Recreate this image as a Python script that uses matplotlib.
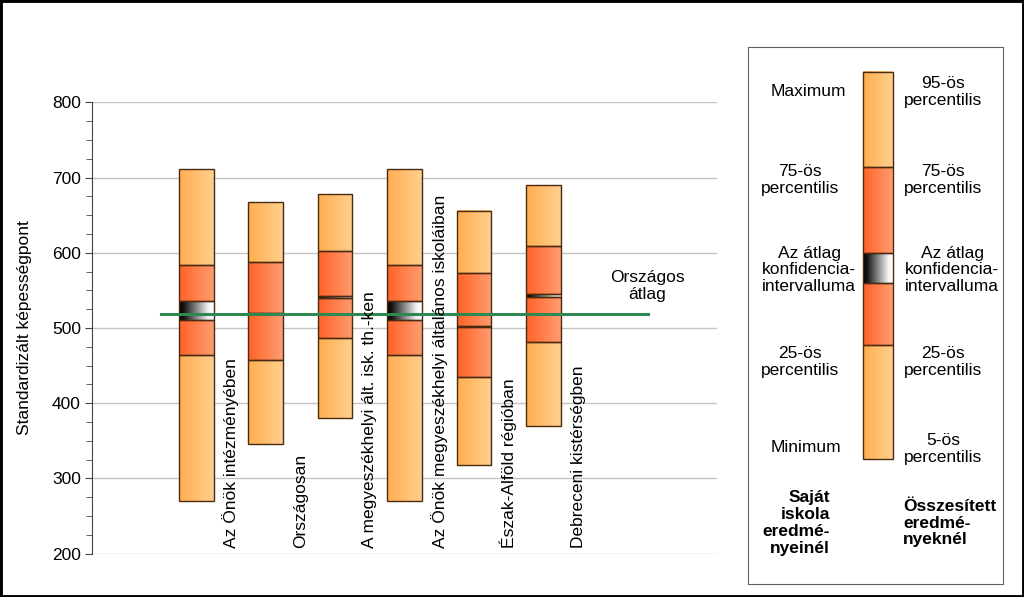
import matplotlib
matplotlib.use("Agg")
import matplotlib.pyplot as plt
import numpy as np
from matplotlib.colors import LinearSegmentedColormap
from matplotlib.patches import Rectangle

plt.rcParams["font.family"] = ["Liberation Sans", "DejaVu Sans"]

# Data
categories = [
    "Az Önök intézményében",
    "Országosan",
    "A megyeszékhelyi ált. isk. th.-ken",
    "Az Önök megyeszékhelyi általános iskoláiban",
    "Észak-Alföld régióban",
    "Debreceni kistérségben",
]
minimum = [270, 346, 381, 270, 318, 370]
p25 = [464, 457, 487, 464, 435, 481]
ci_lo = [510, 518, 540, 510, 501, 541]
ci_hi = [536, 520, 543, 536, 503, 545]
p75 = [584, 588, 603, 584, 573, 609]
maximum = [711, 667, 678, 711, 656, 690]
orszagos_atlag = 519

# Colours
light_cmap = LinearSegmentedColormap.from_list("light", ["#ffae4f", "#ffcf8e"])
red_cmap = LinearSegmentedColormap.from_list("red", ["#ff6228", "#ff9d70"])
ci_cmap = LinearSegmentedColormap.from_list(
    "ci", [(0, "#000000"), (0.12, "#111111"), (0.85, "#f4f4f4"), (1, "#ffffff")])
edge_col = "#4a2a10"
grad = np.linspace(0, 1, 64).reshape(1, -1)


def segment(ax, x0, x1, y0, y1, cmap, lw=1.0):
    ax.imshow(grad, extent=(x0, x1, y0, y1), cmap=cmap, aspect="auto",
              origin="lower", zorder=2, interpolation="bilinear")
    ax.add_patch(Rectangle((x0, y0), x1 - x0, y1 - y0, fill=False,
                           edgecolor=edge_col, lw=lw, zorder=3))


def box(ax, xc, w, vals):
    mn, q1, c0, c1, q3, mx = vals
    x0, x1 = xc - w / 2, xc + w / 2
    segment(ax, x0, x1, mn, q1, light_cmap)
    segment(ax, x0, x1, q1, c0, red_cmap)
    segment(ax, x0, x1, c0, c1, ci_cmap)
    segment(ax, x0, x1, c1, q3, red_cmap)
    segment(ax, x0, x1, q3, mx, light_cmap)


fig = plt.figure(figsize=(10.24, 5.97), dpi=100)
fig.patches.append(Rectangle((0, 0), 1, 1, transform=fig.transFigure,
                             fill=False, edgecolor="black", lw=3.5))

# Main chart
ax = fig.add_axes([92 / 1024, 1 - 553.7 / 597, 625 / 1024, 451.4 / 597])
for i in range(len(categories)):
    box(ax, 1.5 + i, 0.5,
        (minimum[i], p25[i], ci_lo[i], ci_hi[i], p75[i], maximum[i]))
    ax.text(2.0 + i, 207, categories[i], rotation=90, ha="center",
            va="bottom", fontsize=12.5, zorder=5)

ax.plot([1, 8], [orszagos_atlag, orszagos_atlag], color="#2f8752", lw=2.2,
        zorder=4)
ax.text(8, 556, "Országos\nátlag", ha="center", va="center", fontsize=12.5)

ax.set_xlim(0, 9)
ax.set_ylim(200, 800)
ax.set_yticks(range(200, 801, 100))
ax.set_yticks(range(200, 801, 25), minor=True)
ax.set_xticks([])
ax.grid(axis="y", color="#c4c4c4", lw=1, zorder=0)
ax.set_axisbelow(True)
for s in ["top", "right", "bottom"]:
    ax.spines[s].set_visible(False)
ax.spines["left"].set_color("#444444")
ax.tick_params(axis="y", which="major", length=5, color="#444444",
               labelsize=12.5, pad=3)
ax.tick_params(axis="y", which="minor", length=4, color="#444444")
fig.text(25 / 1024, 1 - 328 / 597, "Standardizált képességpont",
         rotation=90, ha="center", va="center", fontsize=12.5)

# Legend box (coordinates in pixels from its top-left corner)
lg = fig.add_axes([747.7 / 1024, 1 - 584 / 597, 255.6 / 1024, 536.7 / 597])
lg.set_xlim(0, 255.6)
lg.set_ylim(536.7, 0)
lg.set_xticks([])
lg.set_yticks([])
for s in lg.spines.values():
    s.set_color("#606060")
leg_edges = [24.4, 120, 206, 236, 297.7, 411.7]
bx0, bx1 = 115.6, 145.6
segment(lg, bx0, bx1, leg_edges[5], leg_edges[4], light_cmap)
segment(lg, bx0, bx1, leg_edges[4], leg_edges[3], red_cmap)
segment(lg, bx0, bx1, leg_edges[3], leg_edges[2], ci_cmap)
segment(lg, bx0, bx1, leg_edges[2], leg_edges[1], red_cmap)
segment(lg, bx0, bx1, leg_edges[1], leg_edges[0], light_cmap)
lg.set_xlim(0, 255.6)
lg.set_ylim(536.7, 0)

left_labels = ["Maximum", "75-ös\npercentilis",
               "Az átlag\nkonfidencia-\nintervalluma", "25-ös\npercentilis",
               "Minimum"]
right_labels = ["95-ös\npercentilis", "75-ös\npercentilis",
                "Az átlag\nkonfidencia-\nintervalluma", "25-ös\npercentilis",
                "5-ös\npercentilis"]
left_x = [60.5, 52.7, 61.3, 52.7, 58]
left_y = [44.4, 132.7, 222.7, 314.4, 400.4]
right_x = [195.3, 195.3, 204.3, 195.3, 195.3]
right_y = [44.4, 132.7, 222.7, 314.4, 401.7]
for t, x, y in zip(left_labels, left_x, left_y):
    lg.text(x, y, t, ha="center", va="center", fontsize=12.5,
            linespacing=1.15)
for t, x, y in zip(right_labels, right_x, right_y):
    lg.text(x, y, t, ha="center", va="center", fontsize=12.5,
            linespacing=1.15)
lg.text(82.3, 475.7, "Saját\niskola\neredmé-\nnyeinél", ha="right",
        va="center", multialignment="right", fontsize=12.5,
        fontweight="bold", linespacing=1.15)
lg.text(155.6, 475.7, "Összesített\neredmé-\nnyeknél", ha="left",
        va="center", multialignment="left", fontsize=12.5,
        fontweight="bold", linespacing=1.15)

fig.savefig("out.png", dpi=100)
